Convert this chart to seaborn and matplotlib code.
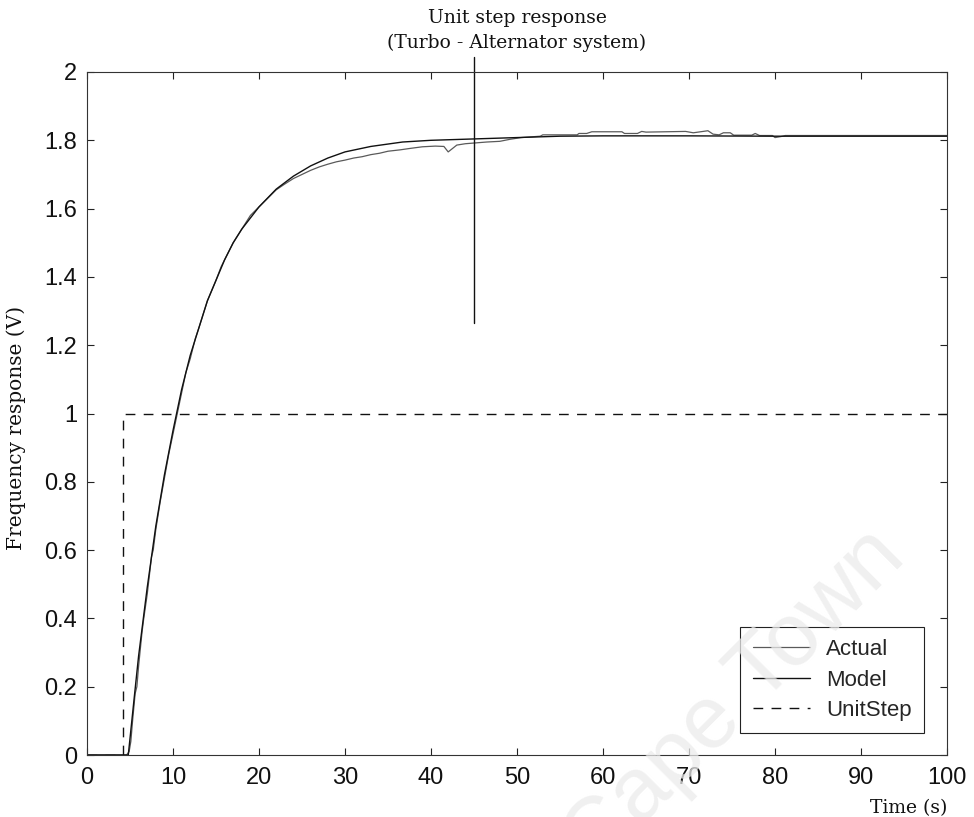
import matplotlib
matplotlib.use("Agg")
import matplotlib.pyplot as plt
import seaborn as sns
import pandas as pd

# ---------------- data ----------------
actual_t = [0, 4.6, 4.9, 5.1, 5.3, 5.6, 5.8, 6.0, 6.4, 6.6, 7.0, 7.5, 7.7, 8.0, 8.5,
            9.0, 9.5, 10.0, 10.5, 11.0, 11.5, 12.0, 12.6, 13.0, 13.5, 14.0, 14.5,
            15.0, 15.6, 16.0, 17.0, 18.0, 19.0, 20.0, 21.0, 22.0, 23.0, 24.0, 25.0,
            26.0, 27.0, 28.0, 29.0, 30.0, 31.0, 32.0, 33.0, 34.0, 35.0, 36.4, 37.5,
            39.0, 40.5, 41.5, 42.0, 42.4, 43.0, 44.0, 45.0, 46.5, 48.0, 49.2, 50.5,
            52.7, 53.0, 57.0, 57.2, 58.1, 58.7, 62.2, 62.5, 64.0, 64.5, 65.0, 69.6,
            70.5, 72.2, 72.8, 73.5, 74.0, 74.8, 75.2, 77.3, 77.7, 78.2, 79.7, 80.0,
            80.7, 81.2, 100]
actual_y = [0, 0, 0.01, 0.04, 0.10, 0.18, 0.20, 0.26, 0.36, 0.40, 0.47, 0.58, 0.60,
            0.66, 0.74, 0.81, 0.88, 0.94, 1.00, 1.06, 1.12, 1.16, 1.22, 1.25, 1.29,
            1.33, 1.36, 1.39, 1.43, 1.45, 1.50, 1.54, 1.58, 1.605, 1.63, 1.655, 1.672,
            1.688, 1.700, 1.712, 1.722, 1.730, 1.737, 1.742, 1.748, 1.752, 1.758,
            1.762, 1.768, 1.772, 1.776, 1.781, 1.783, 1.782, 1.766, 1.774, 1.786,
            1.790, 1.792, 1.795, 1.797, 1.803, 1.808, 1.812, 1.816, 1.816, 1.820,
            1.820, 1.825, 1.825, 1.820, 1.820, 1.826, 1.824, 1.826, 1.822, 1.828,
            1.818, 1.816, 1.822, 1.822, 1.815, 1.815, 1.820, 1.814, 1.814, 1.808,
            1.811, 1.814, 1.814]

model_t = [0, 4.8, 5.5, 6, 7, 8, 9, 10, 11, 12, 13, 14, 15, 16, 17, 18, 20, 22, 24,
           26, 28, 30, 33, 36.7, 40, 45, 50, 55, 60, 70, 80, 100]
model_y = [0, 0, 0.17, 0.29, 0.49, 0.67, 0.82, 0.95, 1.07, 1.17, 1.25, 1.33, 1.39,
           1.45, 1.50, 1.54, 1.605, 1.657, 1.695, 1.725, 1.748, 1.766, 1.782, 1.795,
           1.800, 1.804, 1.808, 1.812, 1.813, 1.813, 1.812, 1.812]

step_t = [0, 4.2, 4.2, 100]
step_y = [0, 0, 1, 1]

marker_t = 45
marker_y = [1.265, 2.045]

x_ticks = [0, 10, 20, 30, 40, 50, 60, 70, 80, 90, 100]
y_ticks = [0, 0.2, 0.4, 0.6, 0.8, 1, 1.2, 1.4, 1.6, 1.8, 2]
y_ticklabels = ["0", "0.2", "0.4", "0.6", "0.8", "1", "1.2", "1.4", "1.6", "1.8", "2"]

title_lines = ["Unit step response", "(Turbo - Alternator system)"]
x_label = "Time (s)"
y_label = "Frequency response (V)"
watermark = "Cape Town"

# ---------------- plot ----------------
sns.set_theme(style="white")
plt.rcParams["font.family"] = ["Liberation Sans", "DejaVu Sans"]

fig = plt.figure(figsize=(9.74, 8.17), dpi=100)
ax = fig.add_axes([87 / 974, 1 - 755 / 817, 860 / 974, 683 / 817])

df_a = pd.DataFrame({"t": actual_t, "y": actual_y})
df_m = pd.DataFrame({"t": model_t, "y": model_y})
df_s = pd.DataFrame({"t": step_t, "y": step_y})

sns.lineplot(data=df_a, x="t", y="y", ax=ax, color="#5a5a5a", linewidth=0.9,
             estimator=None, sort=False, label="Actual")
sns.lineplot(data=df_m, x="t", y="y", ax=ax, color="#111111", linewidth=1.0,
             estimator=None, sort=False, label="Model")
sns.lineplot(data=df_s, x="t", y="y", ax=ax, color="#111111", linewidth=1.0,
             estimator=None, sort=False, label="UnitStep")
ax.lines[-1].set_dashes([7, 6])

ax.plot([marker_t, marker_t], marker_y, color="#111111", linewidth=1.0,
        clip_on=False)

ax.set_xlim(0, 100)
ax.set_ylim(0, 2)
ax.set_xticks(x_ticks)
ax.set_xticklabels([str(v) for v in x_ticks])
ax.set_yticks(y_ticks)
ax.set_yticklabels(y_ticklabels)
ax.tick_params(axis="both", direction="in", length=5, width=0.8, colors="#222222",
               labelsize=17, top=True, right=True, bottom=True, left=True,
               labelcolor="#111111")
ax.tick_params(axis="x", pad=9)
ax.tick_params(axis="y", pad=7)

for sp in ax.spines.values():
    sp.set_visible(True)
    sp.set_color("#333333")
    sp.set_linewidth(0.8)

ax.set_xlabel("")
ax.set_ylabel("")

fig.text(517 / 974, 1 - 18 / 817, title_lines[0], ha="center", va="center",
         family="DejaVu Serif", fontsize=13.5, color="#111111")
fig.text(517 / 974, 1 - 43 / 817, title_lines[1], ha="center", va="center",
         family="DejaVu Serif", fontsize=13.5, color="#111111")
fig.text(947 / 974, 1 - 808 / 817, x_label, ha="right", va="center",
         family="DejaVu Serif", fontsize=13.5, color="#111111")
fig.text(16 / 974, 1 - 428 / 817, y_label, ha="center", va="center", rotation=90,
         family="DejaVu Serif", fontsize=14.5, color="#111111")

leg = ax.legend(loc="lower right", bbox_to_anchor=(0.973, 0.032), fontsize=16,
                frameon=True, fancybox=False, framealpha=1, edgecolor="#222222",
                handlelength=2.6, handletextpad=0.7, labelspacing=0.42,
                borderpad=0.55, borderaxespad=0)
leg.get_frame().set_linewidth(0.8)

# faint scanned watermark on top
fig.text(735 / 974, 1 - 700 / 817, watermark, rotation=45, fontsize=64,
         color="#ebebeb", alpha=0.75, ha="center", va="center",
         family="Liberation Sans", zorder=10)

fig.savefig("out.png", dpi=100)
